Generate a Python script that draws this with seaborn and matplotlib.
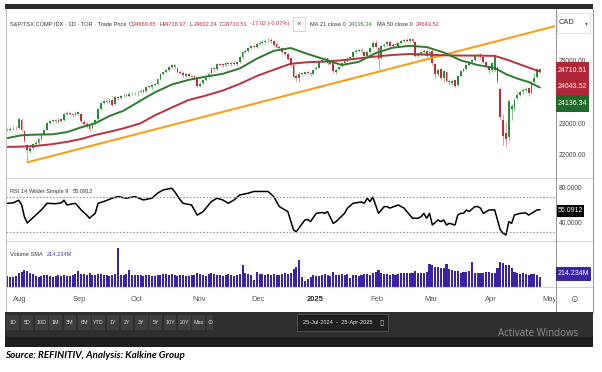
import numpy as np
import pandas as pd
import seaborn as sns
import matplotlib.pyplot as plt
from matplotlib.patches import Rectangle
from matplotlib.lines import Line2D
import matplotlib.transforms as mtransforms

# TSX trading calendar for the window shown (market holidays removed)
holidays = ['2024-08-05', '2024-09-02', '2024-10-14', '2024-12-25', '2024-12-26',
            '2025-01-01', '2025-02-17', '2025-04-18']
calendar = pd.bdate_range('2024-07-25', '2025-05-02')
calendar = calendar[~calendar.isin(pd.to_datetime(holidays))]

# daily candles, S&P/TSX Composite
opens = [22780, 22790, 22840, 22860, 22850,
         23120, 22750, 22300, 22120, 22220, 22350, 22390, 22510, 22660, 22800, 23010, 23070, 23110, 23050, 23140, 23100, 23290, 23330, 23300, 23260, 23310,
         23300, 23050, 22990, 22910, 22850, 23010, 23130, 23460, 23660, 23710, 23690, 23730, 23600, 23830, 23790, 23890, 23910, 23860, 23920, 23950,
         23950, 23980, 24050, 24010, 24170, 24140, 24220, 24260, 24410, 24570, 24630, 24700, 24790, 24850, 24770, 24640, 24610, 24510, 24560, 24500, 24490, 24410,
         24190, 24270, 24380, 24470, 24600, 24760, 24720, 24890, 24870, 24840, 24910, 24870, 24930, 24870, 24960, 25110, 25260, 25310, 25390, 25460, 25430,
         25530, 25560, 25590, 25630, 25660, 25610, 25510, 25430, 25390, 25260, 25210, 25060, 24860, 24490, 24440, 24590, 24560, 24630, 24610, 24570,
         24720, 24760, 24990, 25010, 25060, 24890, 24940, 24640, 24710, 24810, 24910, 24990, 25060, 25110, 25260, 25310, 25340, 25270, 25140, 25260, 25410, 25560,
         25400, 25060, 25460, 25510, 25590, 25440, 25510, 25470, 25560, 25610, 25660, 25610, 25680, 25590, 25140, 25210, 25260, 25310, 25160,
         25300, 24880, 24560, 24710, 24440, 24640, 24340, 24290, 24360, 24210, 24510, 24660, 24730, 24860, 24960, 25010, 25160, 25190, 25090, 24940, 24810,
         24690, 24700, 24780, 24100, 23100, 22700, 22550, 23450, 23500, 23800, 23910, 24010, 24060, 24110, 23960, 24310, 24460, 24669.65]
highs = [22840, 22870, 22900, 22900, 23180,
         23180, 22780, 22350, 22300, 22370, 22430, 22540, 22680, 22820, 23040, 23110, 23140, 23150, 23160, 23180, 23330, 23380, 23360, 23340, 23370, 23390,
         23340, 23090, 23030, 22980, 23030, 23150, 23480, 23690, 23740, 23750, 23790, 23770, 23860, 23860, 23910, 23950, 23940, 23980, 23990, 24000,
         24010, 24080, 24090, 24190, 24210, 24260, 24290, 24430, 24590, 24660, 24730, 24820, 24880, 24890, 24800, 24680, 24650, 24600, 24600, 24540, 24530, 24430,
         24300, 24400, 24490, 24620, 24780, 24800, 24910, 24930, 24910, 24940, 24950, 24960, 24970, 24990, 25140, 25280, 25350, 25420, 25490, 25500, 25560,
         25600, 25630, 25670, 25720, 25700, 25640, 25550, 25470, 25420, 25300, 25240, 25080, 24900, 24560, 24640, 24630, 24650, 24670, 24640, 24730,
         24820, 25010, 25070, 25120, 25080, 24990, 24960, 24740, 24830, 24960, 25010, 25090, 25140, 25280, 25350, 25370, 25380, 25290, 25290, 25430, 25600, 25650,
         25420, 25480, 25550, 25620, 25620, 25540, 25550, 25590, 25640, 25690, 25700, 25720, 25710, 25620, 25260, 25300, 25360, 25340, 25290,
         25360, 24920, 24760, 24740, 24690, 24660, 24420, 24420, 24390, 24530, 24680, 24760, 24890, 24990, 25040, 25190, 25230, 25220, 25120, 24960, 24830,
         24950, 25200, 24800, 24120, 23300, 23050, 23750, 23600, 23800, 23980, 24060, 24110, 24150, 24130, 24330, 24600, 24750, 24718.97]
lows = [22740, 22760, 22800, 22800, 22830,
        22760, 22400, 21800, 22050, 22180, 22300, 22350, 22480, 22630, 22780, 22970, 23030, 23020, 23010, 23040, 23080, 23250, 23250, 23200, 23230, 23270,
        23020, 22930, 22860, 22760, 22820, 22970, 23080, 23430, 23620, 23640, 23650, 23540, 23580, 23750, 23760, 23850, 23830, 23840, 23890, 23900,
        23880, 23950, 23960, 23990, 24110, 24100, 24190, 24230, 24380, 24530, 24600, 24670, 24760, 24740, 24590, 24550, 24480, 24470, 24470, 24430, 24380, 24140,
        24150, 24230, 24340, 24430, 24570, 24670, 24690, 24820, 24800, 24800, 24840, 24830, 24840, 24830, 24930, 25080, 25220, 25270, 25350, 25380, 25390,
        25490, 25520, 25550, 25590, 25560, 25460, 25380, 25330, 25210, 25150, 25000, 24800, 24430, 24350, 24300, 24500, 24540, 24560, 24500, 24550,
        24680, 24740, 24950, 24960, 24860, 24850, 24600, 24580, 24680, 24780, 24880, 24960, 25030, 25080, 25220, 25270, 25240, 25080, 25110, 25230, 25380, 25400,
        24700, 25030, 25420, 25470, 25400, 25400, 25440, 25430, 25520, 25570, 25580, 25580, 25560, 25100, 25090, 25150, 25220, 25100, 25050,
        24850, 24440, 24500, 24380, 24300, 24300, 24220, 24230, 24150, 24190, 24480, 24620, 24690, 24830, 24900, 24990, 25110, 25050, 24900, 24770, 24550,
        24640, 24650, 24280, 23150, 22300, 22250, 22450, 23100, 23400, 23750, 23870, 23930, 24020, 23880, 23940, 24290, 24440, 24602.24]
closes = [22800, 22830, 22850, 22840, 23140,
          22800, 22450, 22150, 22230, 22330, 22380, 22500, 22650, 22780, 23000, 23080, 23100, 23060, 23120, 23080, 23300, 23320, 23290, 23250, 23320, 23350,
          23060, 22980, 22900, 22830, 23000, 23120, 23450, 23650, 23700, 23680, 23720, 23580, 23820, 23800, 23880, 23900, 23870, 23930, 23940, 23960,
          23970, 24040, 24000, 24160, 24150, 24230, 24250, 24400, 24560, 24620, 24690, 24780, 24840, 24780, 24630, 24600, 24520, 24550, 24510, 24480, 24420, 24180,
          24260, 24370, 24450, 24580, 24750, 24710, 24880, 24860, 24850, 24900, 24880, 24920, 24880, 24950, 25100, 25250, 25300, 25380, 25450, 25420, 25520,
          25550, 25580, 25620, 25650, 25600, 25500, 25420, 25380, 25250, 25200, 25050, 24850, 24480, 24450, 24580, 24550, 24620, 24600, 24560, 24700,
          24750, 24980, 25000, 25050, 24900, 24950, 24650, 24700, 24800, 24900, 24980, 25050, 25100, 25250, 25300, 25330, 25280, 25150, 25250, 25400, 25550, 25430,
          25050, 25450, 25500, 25580, 25450, 25500, 25480, 25550, 25600, 25650, 25620, 25670, 25600, 25150, 25200, 25250, 25300, 25150, 25250,
          24900, 24550, 24700, 24450, 24650, 24350, 24300, 24350, 24200, 24500, 24650, 24720, 24850, 24950, 25000, 25150, 25180, 25100, 24950, 24820, 24700,
          24900, 25150, 24350, 23200, 22600, 22500, 23700, 23550, 23750, 23900, 24000, 24050, 24100, 23950, 24300, 24450, 24727.53, 24710.51]

# volume in millions of shares
volume = [230, 220, 210, 240, 290,
          330, 360, 350, 300, 280, 240, 220, 230, 250, 260, 240, 220, 230, 250, 240, 260, 230, 240, 250, 270, 340,
          280, 270, 260, 300, 260, 250, 280, 270, 260, 250, 240, 260, 280, 830, 250, 260, 270, 370, 260, 250,
          260, 250, 240, 260, 250, 240, 230, 250, 260, 280, 270, 260, 280, 250, 240, 260, 250, 230, 240, 250, 260, 290,
          270, 250, 240, 280, 300, 270, 260, 250, 240, 260, 270, 250, 240, 260, 280, 480, 300, 270, 260, 150, 330,
          280, 270, 260, 280, 260, 270, 250, 260, 280, 290, 270, 300, 380, 420, 575, 220, 120, 180, 220, 250,
          240, 230, 260, 270, 250, 240, 320, 260, 250, 270, 260, 270, 200, 260, 250, 240, 250, 280, 270, 260, 290, 330,
          360, 300, 280, 270, 260, 270, 260, 280, 290, 300, 310, 290, 300, 340, 300, 310, 300, 320, 500,
          480, 430, 420, 410, 400, 500, 380, 360, 350, 340, 300, 320, 330, 340, 535, 310, 300, 290, 300, 320, 330,
          310, 300, 400, 535, 510, 480, 470, 400, 330, 300, 280, 290, 270, 260, 280, 270, 250, 220]

# moving averages read at sampled trading days
ma_day = [0, 5, 10, 16, 21, 26, 31, 36, 41, 47, 52, 58, 64, 70, 76, 82, 88, 94, 100, 106,
          112, 118, 124, 130, 136, 142, 148, 154, 160, 166, 172, 176, 180, 184, 188]
ma21 = [22530, 22620, 22640, 22650, 22720, 22870, 23000, 23230, 23400, 23720, 23980, 24230, 24380, 24480, 24570,
        24740, 25050, 25300, 25390, 25200, 25030, 24850, 24950, 25230, 25400, 25460, 25420, 25250, 25000, 24850,
        24760, 24560, 24420, 24310, 24136.34]
ma50 = [22250, 22260, 22280, 22340, 22410, 22500, 22630, 22730, 22840, 23000, 23250, 23500, 23740, 23880, 24040,
        24250, 24500, 24700, 24890, 24940, 24960, 25000, 25060, 25120, 25170, 25200, 25180, 25160, 25150, 25150,
        25140, 25030, 24900, 24770, 24643.52]

# hand-drawn support trend line (trading day, index level)
trend_day = [7, 194]
trend_val = [21760, 26100]

# RSI 14 read at sampled trading days
rsi_day = [0, 2, 4, 5, 6, 7, 8, 10, 12, 14, 17, 19, 20, 21, 24, 26, 28, 29, 31, 32,
           34, 37, 39, 42, 45, 48, 51, 53, 55, 58, 59, 61, 62, 65, 67, 69, 72, 74, 76, 78,
           80, 82, 85, 87, 92, 94, 96, 99, 101, 102, 104, 105, 106, 107, 109, 111, 112, 113, 115, 116,
           119, 120, 122, 125, 126, 127, 128, 129, 131, 133, 134, 135, 138, 139, 140, 141, 143, 145, 146, 147,
           148, 149, 150, 152, 153, 154, 155, 156, 158, 159, 160, 161, 162, 163, 165, 166, 167, 168, 169, 170,
           172, 173, 174, 175, 176, 177, 178, 179, 181, 183, 184, 186, 187, 188]
rsi = [62.5, 63, 66, 61, 47, 40, 43, 49, 55, 62.5, 62, 63, 66, 60.6, 62.5, 55, 49, 45.5, 51, 62.5,
       64.5, 68.3, 70.2, 68.3, 70.2, 66.3, 68.3, 74, 77.8, 79.7, 76, 66.3, 62.5, 60.6, 49, 52.8, 64.5, 68.3, 66.3, 62.5,
       66.3, 72, 74, 76, 76, 70.2, 58.7, 53, 32, 30, 39, 43.4, 44, 41.5, 51, 52, 51, 53, 39.6, 41.5,
       51, 56.8, 62.5, 64, 62.5, 68.3, 64.5, 69.5, 51, 58.7, 58.7, 57, 60.6, 58.7, 57, 53, 45.4, 45.4, 47.2, 51,
       45.4, 51, 37.7, 43.4, 41.5, 43.4, 37.7, 39.6, 37.7, 49.2, 51, 51, 54.8, 53, 58.7, 58.7, 57, 51, 53, 54.8,
       55, 43.4, 32, 28.2, 26.3, 41.5, 39.6, 49.2, 51, 51.5, 49, 53, 55, 55.0912]

price_ticks = [22000, 23000, 24000, 25000, 26000]
rsi_ticks = [40, 80]
month_labels = ['Aug', 'Sep', 'Oct', 'Nov', 'Dec', '2025', 'Feb', 'Mar', 'Apr', 'May']
range_buttons = ['1D', '5D', '10D', '1M', '3M', '6M', 'YTD', '1Y', '2Y', '3Y', '5Y', '10Y', '20Y', 'Max']

W, H = 602, 372
UP, DOWN = '#2b8a3a', '#c22a3a'
SMALL = 4.6
HEAD = 4.1

sns.set_theme(style='white')
plt.rcParams['font.family'] = ['Liberation Sans', 'DejaVu Sans']

fig = plt.figure(figsize=(W / 100, H / 100), dpi=100, facecolor='white')


def place(x0, y0, x1, y1):
    return [x0 / W, 1 - y1 / H, (x1 - x0) / W, (y1 - y0) / H]


def ftext(x, y, s, **kw):
    kw.setdefault('va', 'center')
    kw.setdefault('fontsize', HEAD)
    kw.setdefault('color', '#333333')
    kw.setdefault('zorder', 6)
    return fig.text(x / W, 1 - y / H, s, **kw)


def frect(x0, y0, x1, y1, **kw):
    kw.setdefault('zorder', 5)
    fig.add_artist(Rectangle((x0 / W, 1 - y1 / H), (x1 - x0) / W, (y1 - y0) / H,
                             transform=fig.transFigure, **kw))


def fline(x0, y0, x1, y1, **kw):
    kw.setdefault('zorder', 5)
    fig.add_artist(Line2D([x0 / W, x1 / W], [1 - y0 / H, 1 - y1 / H],
                          transform=fig.transFigure, **kw))


ax_p = fig.add_axes(place(6, 9, 555, 178))
ax_r = fig.add_axes(place(6, 178, 555, 241), sharex=ax_p)
ax_v = fig.add_axes(place(6, 241, 555, 287), sharex=ax_p)
ax_d = fig.add_axes(place(6, 287, 555, 312), sharex=ax_p)

n = len(closes)
day = np.arange(n)
o = np.array(opens, dtype=float)
c = np.array(closes, dtype=float)
up = c >= o

# candles
ax_p.vlines(day, lows, highs, colors=np.where(up, '#86c48e', '#e79aa3'), lw=0.7, zorder=2)
ax_p.bar(day, np.maximum(np.abs(c - o), 14), bottom=np.minimum(o, c), width=0.62,
         color=np.where(up, UP, DOWN), linewidth=0, zorder=3)

sns.lineplot(x=trend_day, y=trend_val, ax=ax_p, color='#f7a11a', lw=1.5, zorder=4)
sns.lineplot(x=ma_day, y=ma50, ax=ax_p, color='#b8323f', lw=1.4, zorder=4)
sns.lineplot(x=ma_day, y=ma21, ax=ax_p, color='#2e7a2f', lw=1.4, zorder=4)

ax_p.set_ylim(21263, 26629)
ax_p.yaxis.tick_right()
ax_p.set_yticks(price_ticks)
ax_p.set_yticklabels([f'{t:.2f}' for t in price_ticks])

# RSI
sns.lineplot(x=rsi_day, y=rsi, ax=ax_r, color='black', lw=1.1)
for lvl in (70, 30):
    ax_r.axhline(lvl, color='#9a9a9a', lw=0.8, ls=(0, (1.5, 1.5)))
ax_r.set_ylim(19.4, 91.4)
ax_r.yaxis.tick_right()
ax_r.set_yticks(rsi_ticks)
ax_r.set_yticklabels([f'{t:.4f}' for t in rsi_ticks])

# volume
sns.barplot(x=day, y=volume, ax=ax_v, native_scale=True, color='#3b22a6', saturation=1,
            width=0.72, linewidth=0, errorbar=None)
ax_v.set_ylim(0, 985)
ax_v.set_yticks([])

for ax in (ax_p, ax_r, ax_v, ax_d):
    ax.set_xlabel('')
    ax.set_ylabel('')
    ax.set_facecolor('white')
    for sp in ax.spines.values():
        sp.set_visible(False)
    ax.tick_params(axis='x', bottom=False, labelbottom=False)
    ax.tick_params(axis='y', length=0, pad=2.5, labelsize=SMALL + 0.2, labelcolor='#444444')
ax_d.set_yticks([])

# month labels on the date strip
firsts = pd.Series(np.arange(len(calendar)), index=calendar)
firsts = firsts.groupby(calendar.to_period('M')).first().iloc[1:]
blend = mtransforms.blended_transform_factory(ax_d.transData, ax_d.transAxes)
for pos, lab in zip(firsts.values, month_labels):
    ax_d.text(pos - 0.5, 0.5, lab, transform=blend, ha='center', va='center', clip_on=True,
              fontsize=5.4, color='#222222' if lab == '2025' else '#555555',
              fontweight='bold' if lab == '2025' else 'normal')

ax_p.set_xlim(-0.5, 193.3)

# frame and separators
frect(5, 4, 593, 9, facecolor='#2b2b2b', lw=0)
for yy in (178, 241, 287):
    fline(6, yy, 592, yy, color='#d6d6d6', lw=0.8)
fline(5.5, 9, 5.5, 312, color='#c4c4c4', lw=0.8)
fline(555.5, 9, 555.5, 312, color='#9c9c9c', lw=0.8)
fline(592.5, 9, 592.5, 312, color='#9c9c9c', lw=0.8)

# header legend
ftext(10, 24, 'S&P/TSX COMP IDX · 1D · TOR · Trade Price')
for x, key, val in [(129, 'O', opens[-1]), (159, 'H', highs[-1]), (190, 'L', lows[-1]), (220, 'C', closes[-1])]:
    ftext(x, 24, key)
    ftext(x + 3.3, 24, f'{val:.2f}', color=DOWN)
chg = closes[-1] - closes[-2]
ftext(250, 24, f'{chg:.2f} ({chg / closes[-2] * 100:.2f}%)', color=DOWN)
frect(293, 17, 305, 31, facecolor='white', edgecolor='#cccccc', lw=0.6)
ftext(299, 24, '×', ha='center', fontsize=5.5, color='#555555')
ftext(310, 24, 'MA 21 close 0')
ftext(349, 24, f'{ma21[-1]:.2f}', color='#2e7a2f')
ftext(377, 24, 'MA 50 close 0')
ftext(416, 24, f'{ma50[-1]:.2f}', color=DOWN)

ftext(10, 191.5, 'RSI 14 Wilder Simple 9')
ftext(73, 191.5, f'{rsi[-1]:.4f}')
ftext(10, 255, 'Volume SMA')
ftext(47, 255, '214.234M', color='#4a3aae')

# right-hand value tags
frect(557, 13, 590, 33, facecolor='white', edgecolor='#dddddd', lw=0.6)
ftext(559, 23, 'CAD', fontsize=5.4)
ftext(585, 23.5, '▾', fontsize=4, color='#555555', family='DejaVu Sans')
for (y0, y1), val, col in [((61.7, 78.3), closes[-1], '#b02838'),
                           ((78.3, 95), ma50[-1], '#b02838'),
                           ((95, 111.7), ma21[-1], '#1e6a28')]:
    frect(556, y0, 589, y1, facecolor=col, lw=0)
    ftext(572.5, (y0 + y1) / 2, f'{val:.2f}', ha='center', color='white', fontsize=SMALL + 0.4)
frect(557, 204.5, 584, 216.5, facecolor='black', lw=0)
ftext(570.5, 210.5, f'{rsi[-1]:.4f}', ha='center', color='white', fontsize=SMALL + 0.4)
frect(556, 267.3, 590, 280, facecolor='#3b22a6', edgecolor='#2a1680', lw=0.6)
ftext(573, 273.7, '214.234M', ha='center', color='white', fontsize=SMALL + 0.4)
ftext(574, 300, '⊙', ha='center', fontsize=6.5, color='#555555', family='DejaVu Sans')

# range toolbar
frect(5, 312, 593, 337, facecolor='#2f2f2f', lw=0)
frect(5, 337, 593, 347, facecolor='#1e1e1e', lw=0)
for k, lab in enumerate(range_buttons):
    cx = 12.7 + k * 14.3
    frect(cx - 6.3, 315, cx + 6.3, 330, facecolor='#3e3e3e', lw=0)
    ftext(cx, 322.5, lab, ha='center', fontsize=3.9, color='#dddddd')
frect(207, 315, 213, 330, facecolor='#3e3e3e', lw=0)
ftext(210, 322.5, '⊙', ha='center', fontsize=4.5, color='#cccccc', family='DejaVu Sans')
frect(297, 313.5, 388, 331, facecolor='#1f1f1f', edgecolor='#555555', lw=0.6)
ftext(303, 322.5, f'{calendar[0]:%d-%b-%Y}  -  {calendar[n - 1]:%d-%b-%Y}', fontsize=4.1, color='#e0e0e0')
ftext(379, 322.5, '▯', fontsize=5.5, color='#cccccc', family='DejaVu Sans')
ftext(498, 333, 'Activate Windows', fontsize=7, color='#8c8c8c', family=['Open Sans', 'DejaVu Sans'])

ftext(5, 356, 'Source: REFINITIV, Analysis: Kalkine Group', fontsize=7.1, color='black',
      fontweight='bold', fontstyle='italic', family=['Lato', 'DejaVu Sans'])

fig.savefig('out.png', dpi=100, facecolor='white')
